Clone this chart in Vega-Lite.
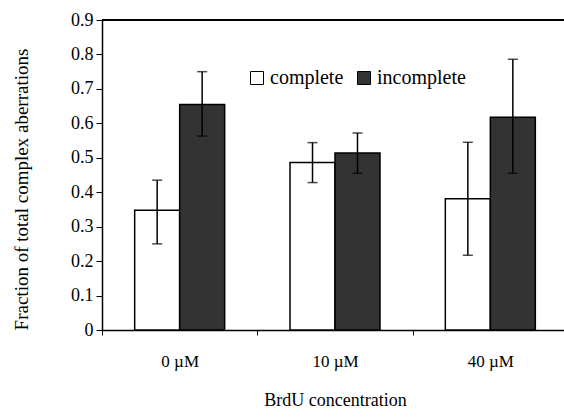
{
  "$schema": "https://vega.github.io/schema/vega-lite/v6.json",
  "autosize": {"type": "none"},
  "padding": {"left": 102, "top": 20, "right": 0, "bottom": 87},
  "width": 462,
  "height": 310,
  "background": "white",
  "config": {
    "view": {"stroke": null},
    "font": "Liberation Serif",
    "axis": {"labelFont": "Liberation Serif", "titleFont": "Liberation Serif", "labelColor": "black", "titleColor": "black", "domainColor": "black", "tickColor": "black", "titleFontWeight": "normal", "grid": false},
    "legend": {"labelFont": "Liberation Serif", "labelColor": "black"}
  },
  "resolve": {"axis": {"y": "independent"}},
  "data": {
    "values": [
      {"conc": "0 µM", "type": "complete", "value": 0.348, "lo": 0.25, "hi": 0.435},
      {"conc": "0 µM", "type": "incomplete", "value": 0.655, "lo": 0.563, "hi": 0.75},
      {"conc": "10 µM", "type": "complete", "value": 0.486, "lo": 0.428, "hi": 0.544},
      {"conc": "10 µM", "type": "incomplete", "value": 0.514, "lo": 0.455, "hi": 0.572},
      {"conc": "40 µM", "type": "complete", "value": 0.381, "lo": 0.217, "hi": 0.545},
      {"conc": "40 µM", "type": "incomplete", "value": 0.618, "lo": 0.455, "hi": 0.786}
    ]
  },
  "encoding": {
    "x": {
      "field": "conc", "type": "nominal", "sort": ["0 µM", "10 µM", "40 µM"],
      "scale": {"paddingInner": 0, "paddingOuter": 0, "range": [0, 466]},
      "axis": {
        "title": "BrdU concentration", "titleFont": "Liberation Serif", "titleFontSize": 18, "titleBaseline": "alphabetic", "titleY": 75,
        "labelFont": "Liberation Serif", "labelAngle": 0, "labelFontSize": 17, "labelPadding": 18, "tickBand": "extent", "tickSize": 5, "tickWidth": 1, "domainWidth": 1.5
      }
    },
    "xOffset": {
      "field": "type", "type": "nominal", "sort": ["complete", "incomplete"],
      "scale": {"paddingInner": 0, "paddingOuter": 0.726}
    }
  },
  "layer": [
    {
      "mark": {"type": "bar", "stroke": "black", "strokeWidth": 1.5},
      "encoding": {
        "y": {
          "field": "value", "type": "quantitative",
          "scale": {"domain": [0, 0.9], "nice": false},
          "axis": {
            "title": "Fraction of total complex aberrations", "titleFont": "Liberation Serif", "titleFontSize": 19, "titleAngle": -90, "titleBaseline": "middle", "titleX": -81, "titleY": 169,
            "values": [0, 0.1, 0.2, 0.3, 0.4, 0.5, 0.6, 0.7, 0.8, 0.9], "format": ".1~f",
            "labelFont": "Liberation Serif", "labelFontSize": 18, "labelPadding": 3, "tickSize": 6, "tickWidth": 1, "domainWidth": 1.5
          }
        },
        "fill": {
          "field": "type", "type": "nominal",
          "scale": {"domain": ["complete", "incomplete"], "range": ["white", "#333333"]},
          "legend": {
            "title": null, "orient": "none", "direction": "horizontal", "legendX": 145, "legendY": 48,
            "symbolType": "square", "symbolSize": 169, "symbolStrokeColor": "black", "symbolStrokeWidth": 1,
            "labelFont": "Liberation Serif", "labelFontSize": 20, "labelOffset": 3, "columnPadding": 10
          }
        }
      }
    },
    {
      "mark": {"type": "rule", "color": "black", "strokeWidth": 1.5},
      "encoding": {
        "y": {"field": "lo", "type": "quantitative", "axis": null},
        "y2": {"field": "hi"}
      }
    },
    {
      "mark": {"type": "tick", "color": "black", "thickness": 1.5, "size": 10, "orient": "horizontal"},
      "encoding": {"y": {"field": "lo", "type": "quantitative", "axis": null}}
    },
    {
      "mark": {"type": "tick", "color": "black", "thickness": 1.5, "size": 10, "orient": "horizontal"},
      "encoding": {"y": {"field": "hi", "type": "quantitative", "axis": null}}
    },
    {
      "mark": {"type": "rule", "color": "black", "strokeWidth": 1.5},
      "encoding": {"y": {"datum": 0.9, "type": "quantitative", "axis": null}, "x": null, "xOffset": null}
    }
  ]
}
